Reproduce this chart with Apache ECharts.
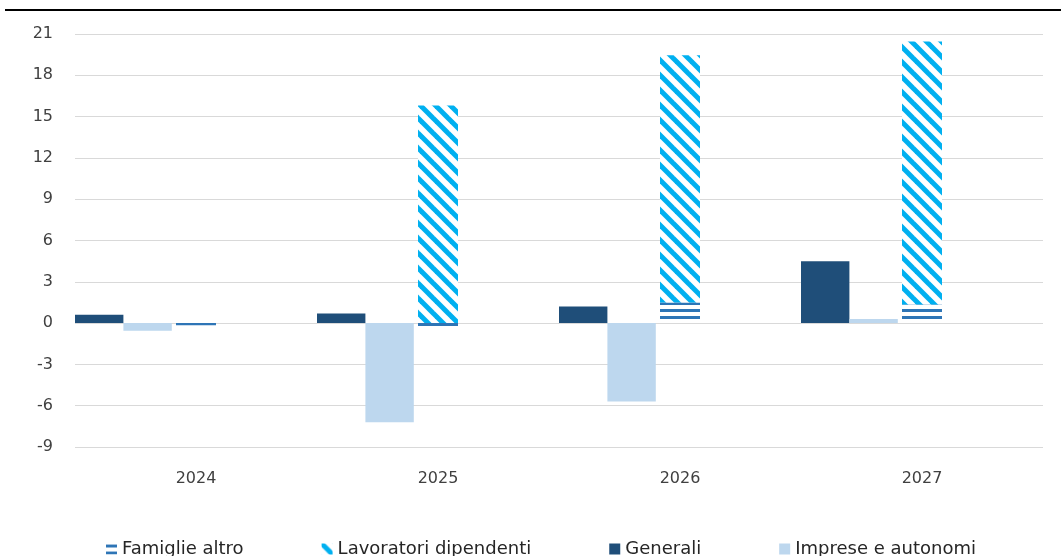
<!DOCTYPE html>
<html>
<head>
<meta charset="utf-8">
<script src="https://cdn.jsdelivr.net/npm/echarts@6/dist/echarts.min.js"></script>
<style>
html, body { margin: 0; padding: 0; background: #ffffff; }
#图表 { width: 1061px; height: 556px; }
</style>
</head>
<body>
<div id="图表"></div>
<script>
// 各年度柱状图：Generali、Imprese 并排，Famiglie/Lavoratori 堆叠在次坐标上。
const 年份 = ['2024', '2025', '2026', '2027']
const 家庭其他 = [-0.15, -0.3, 1.5, 1.35]
const 雇员 = [0, 15.8, 17.95, 19.1]
const 综合 = [0.6, 0.7, 1.2, 4.5]
const 企业 = [-0.55, -7.2, -5.7, 0.3]
const 图例名 = ['Famiglie altro', 'Lavoratori dipendenti', 'Generali', 'Imprese e autonomi']

const 纵轴最小 = -9
const 纵轴最大 = 21
const 纵轴间隔 = 3

const 深蓝 = '#1f4e79'
const 浅蓝 = '#bdd7ee'
const 青色 = '#00b0f0'
const 中蓝 = '#2e75b6'
const 字体 = '"DejaVu Sans", Verdana, sans-serif'

function 斜纹图案() {
  const 尺寸 = 15
  const 画布 = document.createElement('canvas')
  画布.width = 尺寸
  画布.height = 尺寸
  const ctx = 画布.getContext('2d')
  ctx.fillStyle = '#ffffff'
  ctx.fillRect(0, 0, 尺寸, 尺寸)
  ctx.strokeStyle = 青色
  ctx.lineWidth = 5
  const 线段 = [
    [0, 0, 尺寸, 尺寸],
    [-尺寸, 0, 尺寸, 尺寸 * 2],
    [0, -尺寸, 尺寸 * 2, 尺寸],
  ]
  for (const [x1, y1, x2, y2] of 线段) {
    ctx.beginPath()
    ctx.moveTo(x1, y1)
    ctx.lineTo(x2, y2)
    ctx.stroke()
  }
  return { image: 画布, repeat: 'repeat' }
}

function 横纹图案() {
  const 画布 = document.createElement('canvas')
  画布.width = 4
  画布.height = 7
  const ctx = 画布.getContext('2d')
  ctx.fillStyle = '#ffffff'
  ctx.fillRect(0, 0, 4, 7)
  ctx.fillStyle = 中蓝
  ctx.fillRect(0, 1, 4, 3)
  return { image: 画布, repeat: 'repeat' }
}

const 图表 = echarts.init(document.getElementById('图表'))

const 刻度文字 = {
  color: '#404040',
  fontFamily: 字体,
  fontSize: 16,
}

图表.setOption({
  animation: false,
  textStyle: { fontFamily: 字体 },
  grid: {
    left: 75,
    right: 18,
    top: 34,
    bottom: 109,
  },
  graphic: [
    {
      type: 'line',
      shape: { x1: 5, y1: 10, x2: 1061, y2: 10 },
      style: { stroke: '#000000', lineWidth: 2 },
    },
  ],
  legend: {
    data: 图例名,
    icon: 'rect',
    left: 101,
    top: 535,
    itemWidth: 11,
    itemHeight: 11,
    itemGap: 78,
    textStyle: {
      color: '#262626',
      fontFamily: 字体,
      fontSize: 18,
      lineHeight: 18,
    },
  },
  xAxis: [
    {
      type: 'category',
      data: 年份,
      axisLine: { show: false },
      axisTick: { show: false },
      axisLabel: { ...刻度文字, margin: 24 },
    },
    {
      type: 'category',
      data: 年份,
      show: false,
    },
  ],
  yAxis: {
    type: 'value',
    min: 纵轴最小,
    max: 纵轴最大,
    interval: 纵轴间隔,
    axisLine: { show: false },
    axisTick: { show: false },
    axisLabel: { ...刻度文字, margin: 22 },
    splitLine: {
      lineStyle: { color: '#d9d9d9', width: 1 },
    },
  },
  series: [
    {
      name: 'Generali',
      type: 'bar',
      xAxisIndex: 0,
      barWidth: '20%',
      barGap: '0%',
      data: 综合,
      itemStyle: { color: 深蓝 },
    },
    {
      name: 'Imprese e autonomi',
      type: 'bar',
      xAxisIndex: 0,
      barWidth: '20%',
      barGap: '0%',
      data: 企业,
      itemStyle: { color: 浅蓝 },
    },
    {
      // 占位，让前两组柱子靠在类目左侧
      name: '占位',
      type: 'bar',
      xAxisIndex: 0,
      barWidth: '60%',
      barGap: '0%',
      data: [],
      silent: true,
    },
    {
      name: 'Famiglie altro',
      type: 'bar',
      xAxisIndex: 1,
      stack: '家庭',
      barWidth: 40,
      data: 家庭其他,
      itemStyle: { color: 横纹图案() },
    },
    {
      name: 'Lavoratori dipendenti',
      type: 'bar',
      xAxisIndex: 1,
      stack: '家庭',
      barWidth: 40,
      data: 雇员,
      itemStyle: { color: 斜纹图案() },
    },
  ],
})
</script>
</body>
</html>
